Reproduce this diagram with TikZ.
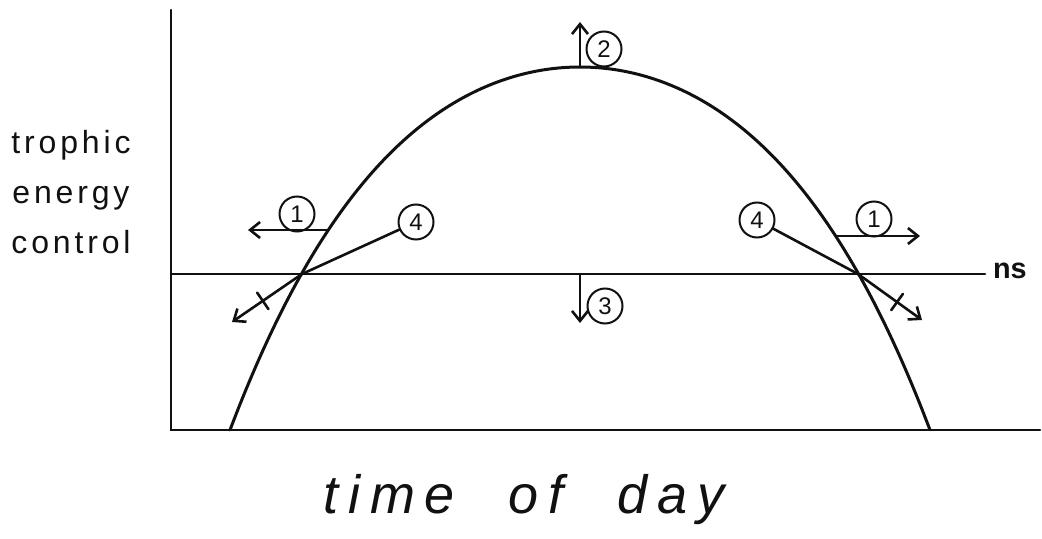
\documentclass[tikz,border=0pt]{standalone}
\usepackage{fontspec}
\setsansfont{Liberation Sans}
\usepackage{tikz}
\definecolor{inkblack}{HTML}{111111}
\usetikzlibrary{arrows.meta, calc}
\tikzset{
	ink/.style={draw=inkblack, line width=1.3pt, line cap=round},
	inkarr/.style={ink, -{Straight Barb[length=5pt, width=8pt]}},
	numcirc/.style={circle, draw=inkblack, line width=1pt, minimum size=17.5pt,
		inner sep=0pt, font=\sffamily\large, text=inkblack},
	axlabel/.style={font=\sffamily\fontsize{16}{25}\selectfont, text=inkblack, align=center}
}

\begin{document}
\begin{tikzpicture}[x=0.5pt, y=-0.5pt]
	\useasboundingbox (0,0) rectangle (1042,539);
	% axes and the ns level
	\coordinate (ytop) at (171,10);
	\coordinate (orig) at (171,430);
	\coordinate (xend) at (1040,430);
	\coordinate (nsstart) at (171,274);
	\coordinate (nsend) at (985,274);
	\draw[ink] (ytop) -- (orig) -- (xend);
	\draw[ink] (nsstart) -- (nsend);
	\node[font=\sffamily\bfseries\Large, text=inkblack, anchor=west] (ns) at (986,271) {ns};
	% daily curve
	\draw[ink, line width=1.5pt] plot[domain=-3.5:3.5, samples=90, smooth]
		({580+100*\x}, {67+21.56*\x*\x+0.659*\x*\x*\x*\x});
	\coordinate (peak) at (580,67);
	\coordinate (nsmid) at (580,274);
	\coordinate (lcross) at (302,274);
	\coordinate (rcross) at (858,274);
	\coordinate (lone) at (328,230);
	\coordinate (rone) at (836,236);
	\coordinate (lonetip) at (248,230);
	\coordinate (ronetip) at (920,236);
	\coordinate (ldown) at (232,322);
	\coordinate (rdown) at (922,320);
	\coordinate (pup) at (580,22);
	\coordinate (ndown) at (580,323);
	% numbered circles
	\node[numcirc] (lcone) at (297,214) {1};
	\node[numcirc] (rcone) at (874,219) {1};
	\node[numcirc] (ctwo) at (604,49) {2};
	\node[numcirc] (cthree) at (605,306) {3};
	\node[numcirc] (lfour) at (416,222) {4};
	\node[numcirc] (rfour) at (757,220) {4};
	% shifts
	\draw[inkarr] (lone) -- (lonetip);
	\draw[inkarr] (rone) -- (ronetip);
	\draw[inkarr] (peak) -- (pup);
	\draw[inkarr] (nsmid) -- (ndown);
	\draw[inkarr] (lcross) -- (ldown) coordinate[pos=0.56] (ltick);
	\draw[inkarr] (rcross) -- (rdown) coordinate[pos=0.61] (rtick);
	\draw[ink] ($(ltick)!5pt!90:(lcross)$) -- ($(ltick)!5pt!-90:(lcross)$);
	\draw[ink] ($(rtick)!5pt!90:(rcross)$) -- ($(rtick)!5pt!-90:(rcross)$);
	\draw[ink] (lcross) -- (lfour);
	\draw[ink] (rcross) -- (rfour);
	% labels
	\node[axlabel] (ylab) at (71,192) {\addfontfeatures{LetterSpace=12}trophic\\
		\addfontfeatures{LetterSpace=12}energy\\\addfontfeatures{LetterSpace=12}control};
	\node[font=\sffamily\itshape\fontsize{27}{30}\selectfont, text=inkblack] (xlab) at (524,500)
		{\addfontfeatures{LetterSpace=18}time\quad of\quad day};
\end{tikzpicture}
\end{document}
